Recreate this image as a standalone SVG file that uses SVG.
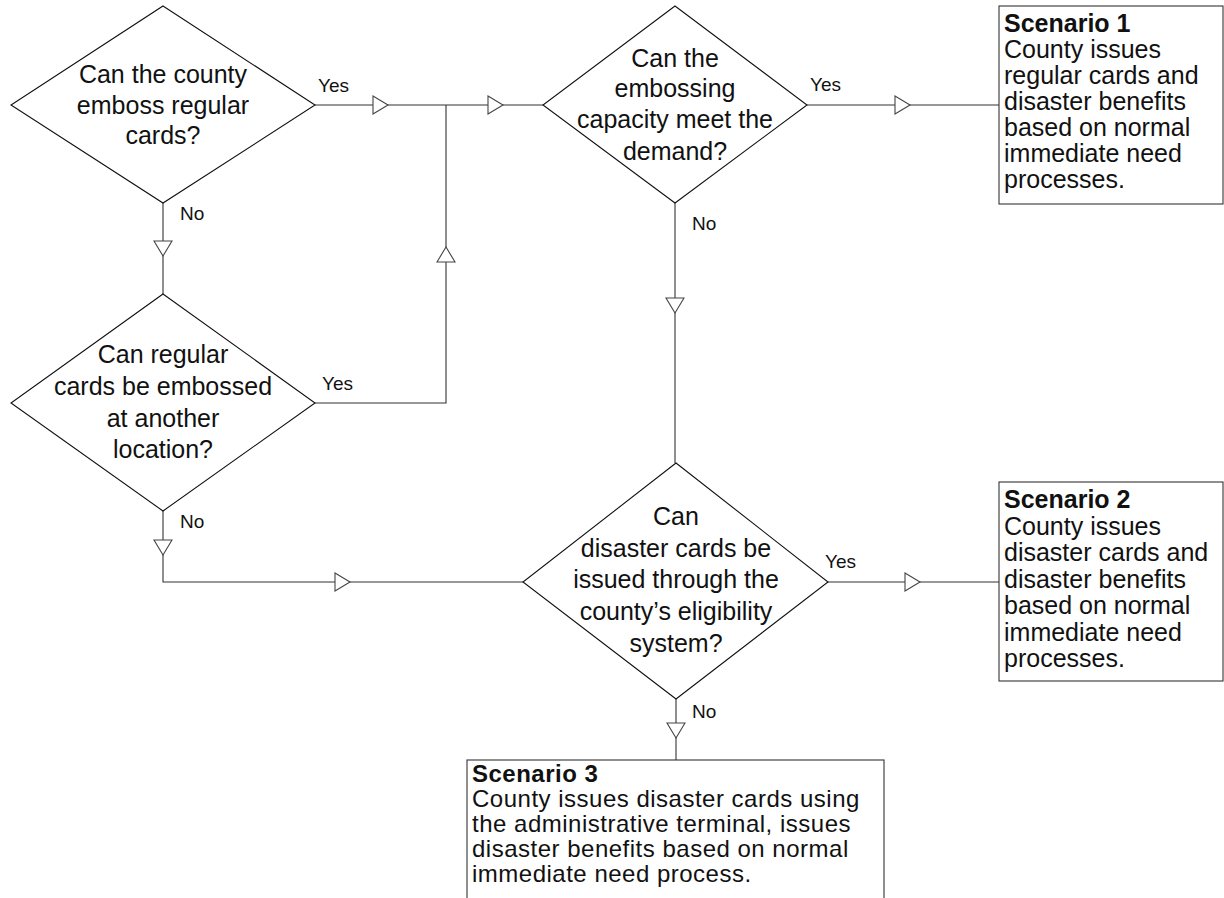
<svg xmlns="http://www.w3.org/2000/svg" xmlns:xlink="http://www.w3.org/1999/xlink" width="1224" height="898" viewBox="0 0 1224 898">
<style>
.bg{fill:#fff}
.dia{fill:#fff;stroke:#111;stroke-width:1.1}
.box{fill:#fff;stroke:#333;stroke-width:1.1}
.con{fill:none;stroke:#333;stroke-width:1.1}
.ah{fill:#fff;stroke:#444;stroke-width:1.1;stroke-linejoin:miter}
.t{font-family:"Liberation Sans",Arial,sans-serif;font-size:25px;fill:#111}
.t3{font-family:"Liberation Sans",Arial,sans-serif;font-size:24px;letter-spacing:0.5px;fill:#111}
.c{text-anchor:middle}
.b{font-weight:bold}
.lbl{font-family:"Liberation Sans",Arial,sans-serif;font-size:19px;fill:#111}
</style>
<defs>
<polygon id="ah" class="ah" points="-15,-9 0,0 -15,9"/>
</defs>
<rect class="bg" x="0" y="0" width="1224" height="898"/>

<g id="connectors">
<path class="con" d="M315,105 H543"/>
<path class="con" d="M315,403 H446 V105"/>
<path class="con" d="M807,105 H999"/>
<path class="con" d="M163,203 V294"/>
<path class="con" d="M675,203 V463"/>
<path class="con" d="M163,511 V582 H523"/>
<path class="con" d="M828,582 H999"/>
<path class="con" d="M676,699 V760"/>
<use xlink:href="#ah" transform="translate(388,105)"/>
<use xlink:href="#ah" transform="translate(503,105)"/>
<use xlink:href="#ah" transform="translate(910,105)"/>
<use xlink:href="#ah" transform="translate(350,582)"/>
<use xlink:href="#ah" transform="translate(920,582)"/>
<use xlink:href="#ah" transform="translate(163,256) rotate(90)"/>
<use xlink:href="#ah" transform="translate(675,313) rotate(90)"/>
<use xlink:href="#ah" transform="translate(163,555) rotate(90)"/>
<use xlink:href="#ah" transform="translate(676,738) rotate(90)"/>
<use xlink:href="#ah" transform="translate(446,247) rotate(-90)"/>
<text class="lbl" x="318" y="92">Yes</text>
<text class="lbl" x="810" y="91">Yes</text>
<text class="lbl" x="322" y="390">Yes</text>
<text class="lbl" x="825" y="568">Yes</text>
<text class="lbl" x="180" y="220">No</text>
<text class="lbl" x="692" y="230">No</text>
<text class="lbl" x="180" y="528">No</text>
<text class="lbl" x="692" y="718">No</text>
</g>

<g id="d1">
<polygon class="dia" points="163,6 315,105 163,203 11,105"/>
<text class="t c" x="163" y="83">Can the county</text>
<text class="t c" x="163" y="114">emboss regular</text>
<text class="t c" x="163" y="144">cards?</text>
</g>

<g id="d2">
<polygon class="dia" points="675,6 807,105 675,203 543,105"/>
<text class="t c" x="675" y="67">Can the</text>
<text class="t c" x="675" y="97">embossing</text>
<text class="t c" x="675" y="128">capacity meet the</text>
<text class="t c" x="675" y="160">demand?</text>
</g>

<g id="d3">
<polygon class="dia" points="163,294 315,403 163,511 11,403"/>
<text class="t c" x="163" y="363">Can regular</text>
<text class="t c" x="163" y="395">cards be embossed</text>
<text class="t c" x="163" y="427">at another</text>
<text class="t c" x="163" y="458">location?</text>
</g>

<g id="d4">
<polygon class="dia" points="676,463 828,582 676,699 523,582"/>
<text class="t c" x="676" y="525">Can</text>
<text class="t c" x="676" y="557">disaster cards be</text>
<text class="t c" x="676" y="588">issued through the</text>
<text class="t c" x="676" y="620">county’s eligibility</text>
<text class="t c" x="676" y="652">system?</text>
</g>

<g id="s1">
<rect class="box" x="999" y="6" width="224" height="198"/>
<text class="t b" x="1004" y="32">Scenario 1</text>
<text class="t" x="1004" y="58">County issues</text>
<text class="t" x="1004" y="84">regular cards and</text>
<text class="t" x="1004" y="110">disaster benefits</text>
<text class="t" x="1004" y="136">based on normal</text>
<text class="t" x="1004" y="162">immediate need</text>
<text class="t" x="1004" y="188">processes.</text>
</g>

<g id="s2">
<rect class="box" x="999" y="482" width="224" height="199"/>
<text class="t b" x="1004" y="508">Scenario 2</text>
<text class="t" x="1004" y="534.5">County issues</text>
<text class="t" x="1004" y="561">disaster cards and</text>
<text class="t" x="1004" y="587.5">disaster benefits</text>
<text class="t" x="1004" y="614">based on normal</text>
<text class="t" x="1004" y="640.5">immediate need</text>
<text class="t" x="1004" y="667">processes.</text>
</g>

<g id="s3">
<rect class="box" x="467" y="760" width="417" height="200"/>
<text class="t3 b" x="472" y="782">Scenario 3</text>
<text class="t3" x="472" y="807">County issues disaster cards using</text>
<text class="t3" x="472" y="832">the administrative terminal, issues</text>
<text class="t3" x="472" y="857">disaster benefits based on normal</text>
<text class="t3" x="472" y="882">immediate need process.</text>
</g>
</svg>
